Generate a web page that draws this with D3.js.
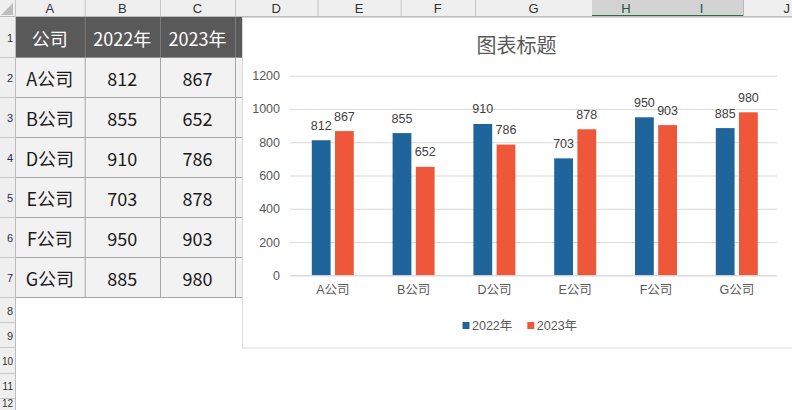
<!DOCTYPE html>
<html>
<head>
<meta charset="utf-8">
<script src="https://cdn.jsdelivr.net/npm/d3@7"></script>
<style>
  html, body { margin: 0; padding: 0; background: #ffffff; }
  svg { display: block; }
</style>
</head>
<body>
<svg id="sheet" width="792" height="410"></svg>
<script>
// ---------- DATA ----------
const categories = ["A公司", "B公司", "D公司", "E公司", "F公司", "G公司"];
const values2022 = [812, 855, 910, 703, 950, 885];
const values2023 = [867, 652, 786, 878, 903, 980];
const seriesNames = ["2022年", "2023年"];
const tableHeader = ["公司", "2022年", "2023年"];
const yTicks = [0, 200, 400, 600, 800, 1000, 1200];
const chartTitle = "图表标题";
const columnLetters = ["A", "B", "C", "D", "E", "F", "G", "H", "I", "J"];
const rowNumbers = [1, 2, 3, 4, 5, 6, 7, 8, 9, 10, 11, 12];

// ---------- LAYOUT ----------
const colEdges = [15, 84.7, 160, 235, 317.5, 400.6, 475, 592, 660, 743, 827];
const rowEdges = [17, 57, 97, 137, 177, 217, 257, 297, 322, 347, 373, 398, 423];
const selectedCols = ["H", "I"];
const colors = { "2022年": "#1f659b", "2023年": "#ef573a" };
const cjk = "'Noto Sans CJK SC', 'Noto Sans', sans-serif";
const chartFont = "'Liberation Sans', Arial, 'Noto Sans CJK SC', sans-serif";

const svg = d3.select("#sheet");

// ---------- SPREADSHEET ----------
// column header row
const colG = svg.append("g");
colG.append("rect").attr("x", 0).attr("y", 0).attr("width", 792).attr("height", 17).attr("fill", "#efefef");
columnLetters.forEach((L, i) => {
  const x0 = colEdges[i], x1 = colEdges[i + 1];
  const sel = selectedCols.includes(L);
  if (sel) {
    colG.append("rect").attr("x", x0).attr("y", 0).attr("width", x1 - x0).attr("height", 17).attr("fill", "#d3d3d3");
    colG.append("rect").attr("x", x0).attr("y", 15).attr("width", x1 - x0).attr("height", 2).attr("fill", "#217346");
  }
  colG.append("line").attr("x1", x1 + 0.5).attr("x2", x1 + 0.5).attr("y1", 0).attr("y2", 17)
    .attr("stroke", sel ? "#b8b8b8" : "#c6c6c6");
  if (x1 <= 792) {
    colG.append("text").attr("x", (x0 + x1) / 2).attr("y", 8.5)
      .attr("text-anchor", "middle").attr("dominant-baseline", "central")
      .attr("font-family", "'Liberation Sans', Arial, sans-serif").attr("font-size", 13)
      .attr("fill", sel ? "#2c4f3a" : "#333").text(L);
  } else {
    colG.append("text").attr("x", 790).attr("y", 8.5)
      .attr("text-anchor", "end").attr("dominant-baseline", "central")
      .attr("font-family", "'Liberation Sans', Arial, sans-serif").attr("font-size", 13)
      .attr("fill", "#333").text(L);
  }
});
colG.append("line").attr("x1", 0).attr("x2", 792).attr("y1", 16.5).attr("y2", 16.5).attr("stroke", "#bdbdbd");
colG.append("line").attr("x1", 15.5).attr("x2", 15.5).attr("y1", 0).attr("y2", 17).attr("stroke", "#c6c6c6");
// select-all corner triangle
colG.append("path").attr("d", "M13,3 L13,15 L1,15 Z").attr("fill", "#bdbdbd");

// row header column
const rowG = svg.append("g");
rowG.append("rect").attr("x", 0).attr("y", 17).attr("width", 15).attr("height", 410).attr("fill", "#efefef");
rowNumbers.forEach((n, i) => {
  const y0 = rowEdges[i], y1 = rowEdges[i + 1];
  rowG.append("line").attr("x1", 0).attr("x2", 15).attr("y1", y1 + 0.5).attr("y2", y1 + 0.5).attr("stroke", "#c8c8c8");
  const yc = Math.min((y0 + y1) / 2 + 1, 403);
  rowG.append("text").attr("x", 13).attr("y", yc)
    .attr("text-anchor", "end").attr("dominant-baseline", "central")
    .attr("font-family", "'Liberation Sans', Arial, sans-serif").attr("font-size", n >= 10 ? 10 : 11)
    .attr("fill", n >= 2 && n <= 7 ? "#1d2b4a" : "#333").text(n);
});
rowG.append("line").attr("x1", 15.5).attr("x2", 15.5).attr("y1", 17).attr("y2", 410).attr("stroke", "#bdbdbd");

// table
const tableG = svg.append("g");
const tableRight = 242;
// header row (row 1), A..D
tableG.append("rect").attr("x", 16).attr("y", rowEdges[0]).attr("width", tableRight - 16)
  .attr("height", rowEdges[1] - rowEdges[0]).attr("fill", "#595959");
// body rows
tableG.append("rect").attr("x", 16).attr("y", rowEdges[1]).attr("width", tableRight - 16)
  .attr("height", rowEdges[7] - rowEdges[1]).attr("fill", "#f2f2f2");

const tableRows = [tableHeader].concat(categories.map((c, i) => [c, values2022[i], values2023[i]]));
tableRows.forEach((row, r) => {
  const y0 = rowEdges[r], y1 = rowEdges[r + 1];
  row.forEach((val, c) => {
    const x0 = colEdges[c], x1 = colEdges[c + 1];
    tableG.append("text").attr("x", (x0 + x1) / 2).attr("y", (y0 + y1) / 2 + 1)
      .attr("text-anchor", "middle").attr("dominant-baseline", "central")
      .attr("font-family", cjk).attr("font-size", 18)
      .attr("fill", r === 0 ? "#ffffff" : "#1a1a1a").text(val);
  });
});
// grid lines of table
for (let r = 1; r <= 7; r++) {
  tableG.append("line").attr("x1", 16).attr("x2", tableRight).attr("y1", rowEdges[r] + 0.5).attr("y2", rowEdges[r] + 0.5)
    .attr("stroke", r === 1 ? "#8c8c8c" : "#a6a6a6");
}
for (let c = 1; c <= 3; c++) {
  tableG.append("line").attr("x1", colEdges[c] + 0.5).attr("x2", colEdges[c] + 0.5)
    .attr("y1", rowEdges[0]).attr("y2", rowEdges[1]).attr("stroke", "#7a7a7a");
  tableG.append("line").attr("x1", colEdges[c] + 0.5).attr("x2", colEdges[c] + 0.5)
    .attr("y1", rowEdges[1]).attr("y2", rowEdges[7]).attr("stroke", "#a6a6a6");
}

// ---------- CHART ----------
const chartBox = { x: 242.5, y: 17.5, w: 600, h: 330.5 };
const chartG = svg.append("g");
chartG.append("rect").attr("x", chartBox.x).attr("y", chartBox.y).attr("width", chartBox.w).attr("height", chartBox.h)
  .attr("fill", "#ffffff").attr("stroke", "#d9d9d9");

chartG.append("text").attr("x", 516.5).attr("y", 44)
  .attr("text-anchor", "middle").attr("dominant-baseline", "central")
  .attr("font-family", cjk).attr("font-size", 20).attr("fill", "#595959").text(chartTitle);

const x0 = d3.scaleBand().domain(categories).range([292.4, 777.2]);
const x1 = d3.scaleBand().domain(seriesNames).range([-21, 21]).paddingInner(0.19);
const y = d3.scaleLinear().domain([0, 1200]).range([275.3, 75.7]);

// gridlines
const yAxis = d3.axisLeft(y).tickValues(yTicks).tickSize(-(777 - 290)).tickPadding(10).tickFormat(d3.format("d"));
const yAxisG = chartG.append("g").attr("transform", "translate(290,0)").call(yAxis);
yAxisG.select(".domain").remove();
yAxisG.selectAll(".tick line").attr("stroke", "#d9d9d9");
yAxisG.selectAll(".tick text").attr("font-family", chartFont).attr("font-size", 12.5).attr("fill", "#595959");

const series = seriesNames.map((s, si) => ({ name: s, values: si === 0 ? values2022 : values2023 }));
const barData = [];
series.forEach(s => s.values.forEach((v, i) => barData.push({ cat: categories[i], series: s.name, value: v })));

chartG.append("g").selectAll("rect").data(barData).join("rect")
  .attr("x", d => x0(d.cat) + x0.bandwidth() / 2 + x1(d.series))
  .attr("width", x1.bandwidth())
  .attr("y", d => y(d.value))
  .attr("height", d => y(0) - y(d.value))
  .attr("fill", d => colors[d.series]);

chartG.append("g").selectAll("text").data(barData).join("text")
  .attr("x", d => x0(d.cat) + x0.bandwidth() / 2 + x1(d.series) + x1.bandwidth() / 2)
  .attr("y", d => y(d.value) - 14.5)
  .attr("text-anchor", "middle").attr("dominant-baseline", "central")
  .attr("font-family", chartFont).attr("font-size", 12.5).attr("fill", "#404040")
  .text(d => d.value);

// x axis
const xAxis = d3.axisBottom(x0).tickSize(0).tickPadding(12);
const xAxisG = chartG.append("g").attr("transform", `translate(0,${y(0)})`).call(xAxis);
xAxisG.select(".domain").attr("stroke", "#d9d9d9").attr("d", `M${290},0.5H${777}`);
xAxisG.selectAll(".tick text").attr("font-family", chartFont).attr("font-size", 12.5).attr("fill", "#595959")
  .attr("dy", "0.5em");

// legend
const legendItems = [{ name: seriesNames[0], x: 462.5 }, { name: seriesNames[1], x: 527.3 }];
const legendG = chartG.append("g");
legendItems.forEach(it => {
  legendG.append("rect").attr("x", it.x).attr("y", 322).attr("width", 7).attr("height", 7).attr("fill", colors[it.name]);
  legendG.append("text").attr("x", it.x + 9.5).attr("y", 325.5).attr("dominant-baseline", "central")
    .attr("font-family", chartFont).attr("font-size", 12.5).attr("fill", "#595959").text(it.name);
});
</script>
</body>
</html>
